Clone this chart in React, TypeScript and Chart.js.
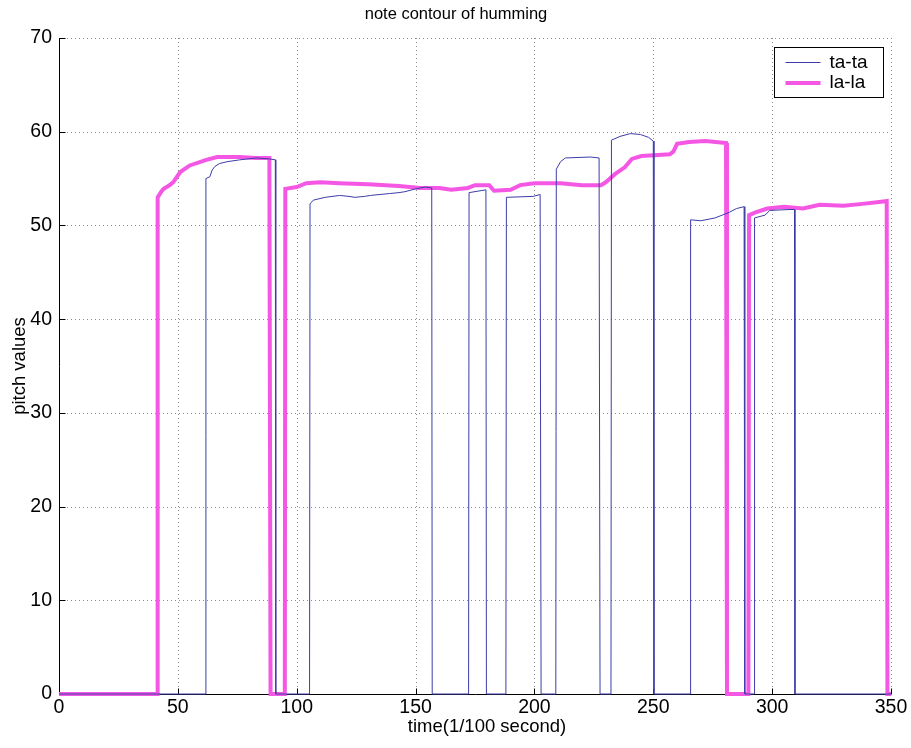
import React, { useEffect, useRef } from "react";
import { Chart, registerables } from "chart.js";

Chart.register(...registerables);

const FONT = "'Liberation Sans', Arial, Helvetica, sans-serif";

const chartTitle = "note contour of humming";
const xAxisTitle = "time(1/100 second)";
const yAxisTitle = "pitch values";
const xTicks = [0, 50, 100, 150, 200, 250, 300, 350];
const yTicks = [0, 10, 20, 30, 40, 50, 60, 70];

const seriesNames = ["ta-ta", "la-la"];
const seriesColors = ["#3c3ca8", "#f457e4"];
const seriesWidths = [1, 4];

// ta-ta (thin blue)
const tataTime = [
  0, 61.6, 61.8, 63.5, 64.4, 65.6, 67.5, 70.7, 76, 83, 88.5, 91,
  91.2, 105.4, 105.6, 107, 112, 118, 122, 124.5, 128.6, 131, 139, 143, 145.5, 150, 154, 156.8,
  157, 172.3, 172.5, 179.6, 179.8, 188, 188.2, 199.5, 202.4, 202.8,
  203, 209, 209.2, 211, 213, 223.5, 227.2, 227.6,
  227.8, 232.2, 232.4, 236, 240.4, 244.6, 248, 250, 250.3,
  250.5, 265.5, 265.7, 270, 276, 282, 285, 288.2, 288.5,
  288.7, 292.4, 292.6, 297, 299, 307.5, 309.4, 309.6,
  309.8, 350,
];
const tataPitch = [
  0, 0, 55.0, 55.2, 55.9, 56.3, 56.6, 56.8, 57.0, 57.2, 57.1, 57.0,
  0, 0, 52.3, 52.7, 53.0, 53.2, 53.1, 53.0, 53.1, 53.2, 53.4, 53.5, 53.6, 53.9, 54.1, 54.0,
  0, 0, 53.5, 53.8, 0, 0, 53.0, 53.1, 53.3, 0,
  0, 0, 56.0, 56.8, 57.2, 57.3, 57.2, 0,
  0, 0, 59.1, 59.5, 59.8, 59.7, 59.4, 59.0, 0,
  0, 0, 50.6, 50.5, 50.8, 51.4, 51.8, 52.0, 0,
  0, 0, 50.8, 51.1, 51.6, 51.7, 51.7, 0,
  0, 0,
];

// la-la (thick magenta)
const lalaTime = [
  0, 41.3, 41.5, 43, 44, 46, 48, 51, 55, 62, 66.5, 76, 83, 88.5, 89,
  95, 95.2, 100, 104, 110, 118, 130, 143, 152, 160, 165, 172, 175, 181, 183, 190, 194, 200, 211, 220, 228,
  230, 234, 238, 241, 245, 257, 258.5, 260, 265, 272, 280.6, 281,
  290, 290.3, 293, 298, 305, 313, 320, 330, 338, 345, 348.2, 348.5, 350,
];
const lalaPitch = [
  0, 0, 53.0, 53.6, 53.9, 54.2, 54.6, 55.7, 56.4, 57.0, 57.3, 57.3, 57.2, 57.2, 0,
  0, 53.9, 54.1, 54.5, 54.6, 54.5, 54.4, 54.2, 54.0, 54.0, 53.8, 54.0, 54.3, 54.3, 53.7, 53.8, 54.3, 54.5, 54.5, 54.3, 54.3,
  54.6, 55.5, 56.2, 57.1, 57.4, 57.6, 57.9, 58.7, 58.9, 59.0, 58.8, 0,
  0, 51.1, 51.4, 51.8, 52.0, 51.8, 52.2, 52.1, 52.3, 52.5, 52.6, 0, 0,
];

const toPoints = (xs: number[], ys: number[]) => xs.map((x, i) => ({ x, y: ys[i] }));

const matlabAxes = {
  id: "matlabAxes",
  beforeDatasetsDraw(chart: any) {
    const { ctx, chartArea, scales } = chart;
    const { left, right, top, bottom } = chartArea;
    const x = scales.x;
    const y = scales.y;
    ctx.save();
    ctx.lineWidth = 1;
    ctx.strokeStyle = "#8c8c8c";
    ctx.setLineDash([1, 3]);
    xTicks.forEach((v) => {
      if (v === 0) return;
      const px = Math.round(x.getPixelForValue(v)) + 0.5;
      ctx.beginPath();
      ctx.moveTo(px, top);
      ctx.lineTo(px, bottom);
      ctx.stroke();
    });
    yTicks.forEach((v) => {
      if (v === 0) return;
      const py = Math.round(y.getPixelForValue(v)) + 0.5;
      ctx.beginPath();
      ctx.moveTo(left, py);
      ctx.lineTo(right, py);
      ctx.stroke();
    });
    ctx.setLineDash([]);
    ctx.strokeStyle = "#000";
    const lx = Math.round(left) + 0.5;
    const by = Math.round(bottom) + 0.5;
    ctx.beginPath();
    ctx.moveTo(lx, top);
    ctx.lineTo(lx, by);
    ctx.lineTo(right, by);
    ctx.stroke();
    const tl = 6;
    xTicks.forEach((v) => {
      const px = Math.round(x.getPixelForValue(v)) + 0.5;
      ctx.beginPath();
      ctx.moveTo(px, by);
      ctx.lineTo(px, by - tl);
      ctx.stroke();
    });
    yTicks.forEach((v) => {
      const py = Math.round(y.getPixelForValue(v)) + 0.5;
      ctx.beginPath();
      ctx.moveTo(lx, py);
      ctx.lineTo(lx + tl, py);
      ctx.stroke();
    });
    ctx.restore();
  },
  afterDraw(chart: any) {
    const { ctx, chartArea } = chart;
    ctx.save();
    // titles
    ctx.fillStyle = "#000";
    ctx.textAlign = "center";
    ctx.textBaseline = "middle";
    ctx.font = `16.5px ${FONT}`;
    ctx.fillText(chartTitle, 456, 14);
    ctx.font = `18.5px ${FONT}`;
    ctx.fillText(xAxisTitle, 487, 727);
    ctx.save();
    ctx.translate(20, (chartArea.top + chartArea.bottom) / 2);
    ctx.rotate(-Math.PI / 2);
    ctx.fillText(yAxisTitle, 0, 0);
    ctx.restore();

    // legend
    const bw = 109;
    const bh = 50;
    const bx = Math.round(chartArea.right - 8 - bw) + 0.5;
    const byy = Math.round(chartArea.top + 9) + 0.5;
    ctx.fillStyle = "#fff";
    ctx.fillRect(bx, byy, bw, bh);
    ctx.strokeStyle = "#000";
    ctx.lineWidth = 1;
    ctx.strokeRect(bx, byy, bw, bh);
    ctx.font = `19px ${FONT}`;
    ctx.textBaseline = "middle";
    ctx.textAlign = "left";
    chart.data.datasets.forEach((ds: any, i: number) => {
      const cy = byy + 15 + i * 20.5;
      ctx.strokeStyle = ds.borderColor;
      ctx.lineWidth = ds.borderWidth;
      ctx.beginPath();
      ctx.moveTo(bx + 11, cy);
      ctx.lineTo(bx + 46, cy);
      ctx.stroke();
      ctx.fillStyle = "#000";
      ctx.fillText(ds.label, bx + 55, cy);
    });
    ctx.restore();
  },
};

export default function App() {
  const canvasRef = useRef<HTMLCanvasElement | null>(null);

  useEffect(() => {
    const canvas = canvasRef.current;
    if (!canvas) return;
    const chart = new Chart(canvas, {
      type: "line",
      data: {
        datasets: [
          {
            label: seriesNames[0],
            data: toPoints(tataTime, tataPitch),
            borderColor: seriesColors[0],
            backgroundColor: seriesColors[0],
            borderWidth: seriesWidths[0],
            pointRadius: 0,
            tension: 0,
            clip: false as any,
          },
          {
            label: seriesNames[1],
            data: toPoints(lalaTime, lalaPitch),
            borderColor: seriesColors[1],
            backgroundColor: seriesColors[1],
            borderWidth: seriesWidths[1],
            pointRadius: 0,
            tension: 0,
            borderJoinStyle: "miter",
            clip: false as any,
          },
        ],
      },
      options: {
        animation: false,
        responsive: false,
        parsing: false as any,
        layout: { padding: { left: 0, right: 20, top: 38, bottom: 0 } },
        plugins: {
          legend: { display: false },
          tooltip: { enabled: false },
          title: { display: false },
        },
        scales: {
          x: {
            type: "linear",
            min: 0,
            max: 350,
            afterBuildTicks: (s: any) => {
              s.ticks = xTicks.map((v) => ({ value: v }));
            },
            ticks: {
              color: "#000",
              font: { family: FONT, size: 19.5 },
              padding: 2,
              maxRotation: 0,
              autoSkip: false,
            },
            grid: { display: false, drawTicks: false },
            border: { display: false },
            title: { display: false },
            afterFit: (s: any) => {
              s.height = 54;
              s.paddingLeft = 0;
              s.paddingRight = 0;
            },
          },
          y: {
            type: "linear",
            min: 0,
            max: 70,
            afterBuildTicks: (s: any) => {
              s.ticks = yTicks.map((v) => ({ value: v }));
            },
            ticks: {
              color: "#000",
              font: { family: FONT, size: 19.5 },
              padding: 7,
              autoSkip: false,
            },
            grid: { display: false, drawTicks: false },
            border: { display: false },
            title: { display: false },
            afterFit: (s: any) => {
              s.width = 59;
              s.paddingTop = 0;
              s.paddingBottom = 0;
            },
          },
        },
      },
      plugins: [matlabAxes],
    });
    return () => chart.destroy();
  }, []);

  return (
    <div style={{ position: "absolute", left: 0, top: 0, width: 911, height: 748, background: "#fff" }}>
      <canvas ref={canvasRef} width={911} height={748} style={{ display: "block" }} />
    </div>
  );
}
